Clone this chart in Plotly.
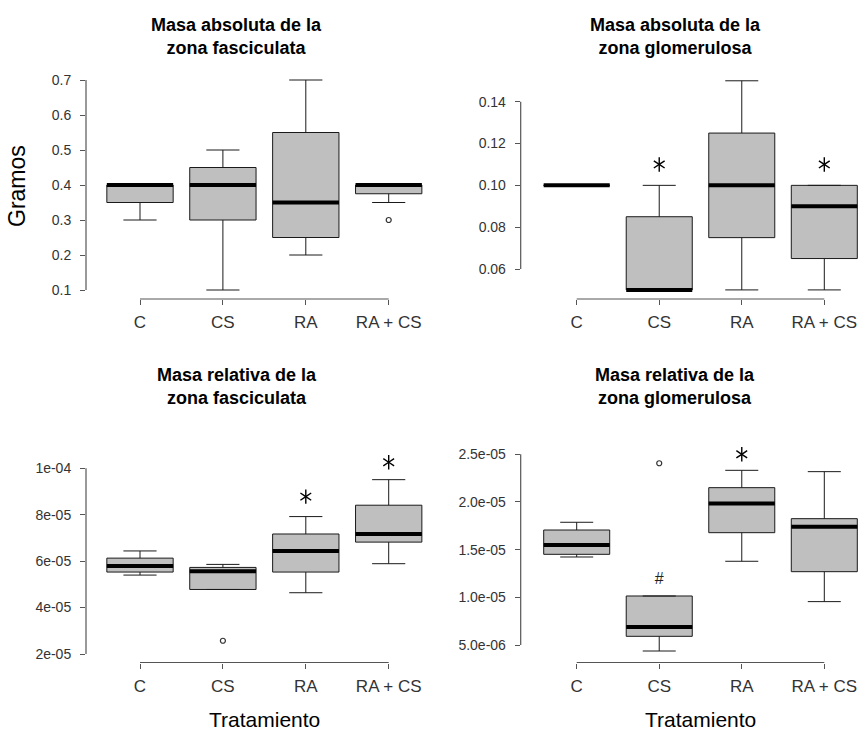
import plotly.graph_objects as go

W, H = 859, 734

categories = ["C", "CS", "RA", "RA + CS"]
cat_pos = [1, 2, 3, 4]

# Panel 1: Masa absoluta zona fasciculata
af_low = [0.30, 0.10, 0.20, 0.35]
af_q1 = [0.35, 0.30, 0.25, 0.375]
af_med = [0.40, 0.40, 0.35, 0.40]
af_q3 = [0.40, 0.45, 0.55, 0.40]
af_high = [0.40, 0.50, 0.70, 0.40]
af_out_x = [4]
af_out_y = [0.30]
af_star_x = []
af_star_y = []
af_ticks = [0.1, 0.2, 0.3, 0.4, 0.5, 0.6, 0.7]
af_ticktext = ["0.1", "0.2", "0.3", "0.4", "0.5", "0.6", "0.7"]

# Panel 2: Masa absoluta zona glomerulosa
ag_low = [0.10, 0.05, 0.05, 0.05]
ag_q1 = [0.10, 0.05, 0.075, 0.065]
ag_med = [0.10, 0.05, 0.10, 0.09]
ag_q3 = [0.10, 0.085, 0.125, 0.10]
ag_high = [0.10, 0.10, 0.15, 0.10]
ag_out_x = []
ag_out_y = []
ag_star_x = [2, 4]
ag_star_y = [0.11, 0.11]
ag_ticks = [0.06, 0.08, 0.10, 0.12, 0.14]
ag_ticktext = ["0.06", "0.08", "0.10", "0.12", "0.14"]

# Panel 3: Masa relativa zona fasciculata
rf_low = [5.40e-5, 4.78e-5, 4.64e-5, 5.89e-5]
rf_q1 = [5.53e-5, 4.78e-5, 5.53e-5, 6.82e-5]
rf_med = [5.79e-5, 5.56e-5, 6.44e-5, 7.17e-5]
rf_q3 = [6.13e-5, 5.73e-5, 7.17e-5, 8.41e-5]
rf_high = [6.44e-5, 5.86e-5, 7.92e-5, 9.51e-5]
rf_out_x = [2]
rf_out_y = [2.57e-5]
rf_star_x = [3, 4]
rf_star_y = [8.78e-5, 1.026e-4]
rf_ticks = [2e-5, 4e-5, 6e-5, 8e-5, 1e-4]
rf_ticktext = ["2e-05", "4e-05", "6e-05", "8e-05", "1e-04"]

# Panel 4: Masa relativa zona glomerulosa
rg_low = [1.423e-5, 4.37e-6, 1.378e-5, 9.55e-6]
rg_q1 = [1.451e-5, 5.91e-6, 1.678e-5, 1.269e-5]
rg_med = [1.549e-5, 6.89e-6, 1.983e-5, 1.741e-5]
rg_q3 = [1.706e-5, 1.014e-5, 2.150e-5, 1.825e-5]
rg_high = [1.787e-5, 1.014e-5, 2.332e-5, 2.318e-5]
rg_out_x = [2]
rg_out_y = [2.406e-5]
rg_star_x = [3]
rg_star_y = [2.50e-5]
rg_hash_x = [2]
rg_hash_y = [1.18e-5]
rg_ticks = [5e-6, 1e-5, 1.5e-5, 2e-5, 2.5e-5]
rg_ticktext = ["5.0e-06", "1.0e-05", "1.5e-05", "2.0e-05", "2.5e-05"]

titles = [
    "Masa absoluta de la<br>zona fasciculata",
    "Masa absoluta de la<br>zona glomerulosa",
    "Masa relativa de la<br>zona fasciculata",
    "Masa relativa de la<br>zona glomerulosa",
]

FONT = "Liberation Sans, Arial, sans-serif"
AXCOL = "#555555"
BOX_W = 0.8


def lin_range(a1, p1, a2, p2, e0, e1):
    # value at pixel edges e0, e1 given two anchors (value a, pixel p)
    k = (a2 - a1) / (p2 - p1)
    return [a1 + (e0 - p1) * k, a1 + (e1 - p1) * k]


panels = [
    dict(data=(af_low, af_q1, af_med, af_q3, af_high), out=(af_out_x, af_out_y),
         star=(af_star_x, af_star_y), ticks=(af_ticks, af_ticktext),
         xdom=(86, 430), ydom=(66, 299), xanc=(140, 388.7), yanc=(290, 80),
         title_xy=(237, 36), xlab=False),
    dict(data=(ag_low, ag_q1, ag_med, ag_q3, ag_high), out=(ag_out_x, ag_out_y),
         star=(ag_star_x, ag_star_y), ticks=(ag_ticks, ag_ticktext),
         xdom=(520.7, 859), ydom=(66, 299), xanc=(576.7, 824.3), yanc=(269, 101.7),
         title_xy=(675, 36), xlab=False),
    dict(data=(rf_low, rf_q1, rf_med, rf_q3, rf_high), out=(rf_out_x, rf_out_y),
         star=(rf_star_x, rf_star_y), ticks=(rf_ticks, rf_ticktext),
         xdom=(86, 430), ydom=(445, 662.5), xanc=(140, 388.7), yanc=(654, 468.3),
         title_xy=(237, 387), xlab=True),
    dict(data=(rg_low, rg_q1, rg_med, rg_q3, rg_high), out=(rg_out_x, rg_out_y),
         star=(rg_star_x, rg_star_y), ticks=(rg_ticks, rg_ticktext),
         xdom=(520.7, 859), ydom=(440, 662.5), xanc=(576.7, 824.3), yanc=(645, 454.3),
         title_xy=(675, 387), xlab=True),
]

fig = go.Figure()
layout = {}
shapes = []
annotations = []

for i, p in enumerate(panels):
    n = "" if i == 0 else str(i + 1)
    xa, ya = "x" + n, "y" + n
    low, q1, med, q3, high = p["data"]
    tv, tt = p["ticks"]

    fig.add_trace(go.Box(
        x=cat_pos, q1=q1, median=med, q3=q3, lowerfence=low, upperfence=high,
        width=BOX_W, whiskerwidth=0.5, fillcolor="#bfbfbf",
        line=dict(color="#1a1a1a", width=1), boxpoints=False,
        xaxis=xa, yaxis=ya, showlegend=False, hoverinfo="skip",
    ))
    # thick medians
    mx, my = [], []
    for c, m in zip(cat_pos, med):
        mx += [c - BOX_W / 2, c + BOX_W / 2, None]
        my += [m, m, None]
    fig.add_trace(go.Scatter(x=mx, y=my, mode="lines", line=dict(color="black", width=4),
                             xaxis=xa, yaxis=ya, showlegend=False, hoverinfo="skip"))
    # outliers
    ox, oy = p["out"]
    if ox:
        fig.add_trace(go.Scatter(x=ox, y=oy, mode="markers",
                                 marker=dict(symbol="circle-open", size=5, color="#333333",
                                             line=dict(width=1.2)),
                                 xaxis=xa, yaxis=ya, showlegend=False, hoverinfo="skip",
                                 cliponaxis=False))
    # significance asterisks (six-armed)
    sx, sy = p["star"]
    if sx:
        for sym in ("y-up-open", "y-down-open"):
            fig.add_trace(go.Scatter(x=sx, y=sy, mode="markers",
                                     marker=dict(symbol=sym, size=9, color="black",
                                                 line=dict(width=1.4, color="black")),
                                     xaxis=xa, yaxis=ya, showlegend=False, hoverinfo="skip",
                                     cliponaxis=False))
    if i == 3:
        fig.add_trace(go.Scatter(x=rg_hash_x, y=rg_hash_y, mode="text", text=["#"],
                                 textfont=dict(family=FONT, size=16, color="#222222"),
                                 xaxis=xa, yaxis=ya, showlegend=False, hoverinfo="skip",
                                 cliponaxis=False))

    x0, x1 = p["xdom"]
    yt, yb = p["ydom"]
    xr = lin_range(1, p["xanc"][0], 4, p["xanc"][1], x0, x1)
    yr = lin_range(tv[0], p["yanc"][0], tv[-1], p["yanc"][1], yb, yt)

    layout["xaxis" + n] = dict(
        domain=[x0 / W, x1 / W], range=xr, anchor=ya,
        tickmode="array", tickvals=cat_pos, ticktext=categories,
        ticks="outside", ticklen=5, tickwidth=1, tickcolor=AXCOL,
        showline=False, showgrid=False, zeroline=False,
        tickfont=dict(family=FONT, size=17, color="#333333"),
        ticklabelstandoff=3,
    )
    layout["yaxis" + n] = dict(
        domain=[1 - yb / H, 1 - yt / H], range=yr, anchor=xa,
        tickmode="array", tickvals=tv, ticktext=tt,
        ticks="outside", ticklen=5, tickwidth=1, tickcolor=AXCOL,
        showline=False, showgrid=False, zeroline=False,
        tickfont=dict(family=FONT, size=14, color="#333333"),
        ticklabelstandoff=6,
    )
    # R-style axis lines spanning only the tick range
    shapes.append(dict(type="line", xref=xa + " domain", yref=ya,
                       x0=0, x1=0, y0=tv[0], y1=tv[-1],
                       line=dict(color=AXCOL, width=1.2)))
    shapes.append(dict(type="line", xref=xa, yref=ya + " domain",
                       x0=cat_pos[0], x1=cat_pos[-1], y0=0, y1=0,
                       line=dict(color=AXCOL, width=1.2)))

    tx, ty = p["title_xy"]
    annotations.append(dict(text="<b>" + titles[i] + "</b>", xref="paper", yref="paper",
                            x=tx / W, y=1 - ty / H, xanchor="center", yanchor="middle",
                            showarrow=False,
                            font=dict(family=FONT, size=18, color="black")))
    if p["xlab"]:
        annotations.append(dict(text="Tratamiento", xref="paper", yref="paper",
                                x=((p["xanc"][0] + p["xanc"][1]) / 2) / W, y=1 - 719 / H,
                                xanchor="center", yanchor="middle", showarrow=False,
                                font=dict(family=FONT, size=21, color="black")))

annotations.append(dict(text="Gramos", xref="paper", yref="paper",
                        x=17 / W, y=1 - 186 / H, xanchor="center", yanchor="middle",
                        textangle=-90, showarrow=False,
                        font=dict(family=FONT, size=23, color="black")))

fig.update_layout(
    width=W, height=H, margin=dict(l=0, r=0, t=0, b=0),
    paper_bgcolor="white", plot_bgcolor="white",
    shapes=shapes, annotations=annotations, showlegend=False,
    **layout,
)

fig.write_html("out.html")
